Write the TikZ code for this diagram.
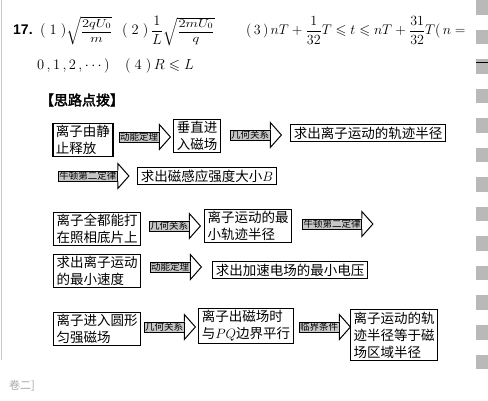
\RequirePackage{fix-cm}
\documentclass[tikz,border=0pt]{standalone}
\usepackage{amsmath,amssymb,graphicx}
\usepackage{fontspec}
\newfontfamily\cjk{Noto Sans CJK SC}
\newfontfamily\cjkb{Noto Sans CJK SC}[FakeBold=2.5]
\newfontfamily\hd{Liberation Sans}
\usetikzlibrary{calc}
\newcommand\ahead[1]{\draw[arrhead] (#1.north east) -- ([yshift=7pt]#1.north east) -- ([xshift=11pt]#1.east) -- ([yshift=-7pt]#1.south east) -- (#1.south east);}
\newcommand\flatroot[2]{\scalebox{1}[0.8]{$\sqrt{\dfrac{#1}{#2}}$}}
\begin{document}
\begin{tikzpicture}[x=1pt,y=-1pt,
  box/.style={draw,line width=1.1pt,inner xsep=3pt,inner ysep=2pt,align=left,font=\cjk\fontsize{13.5}{17}\selectfont},
  lab/.style={draw,line width=0.8pt,fill=gray!45,inner xsep=1pt,inner ysep=0.6pt,font=\cjk\fontsize{9.5}{10}\selectfont},
  arrhead/.style={line width=1pt,line join=miter},
  mth/.style={anchor=base west,inner sep=0pt,font=\fontsize{14.5}{17}\selectfont}]
\useasboundingbox (0,0) rectangle (488,401);
% page decorations
\draw[gray!45,line width=0.6pt] (1.5,0) -- (1.5,360);
\foreach \i in {0,...,12} \fill[gray!55] (475.5,{0.5+29.5*\i}) rectangle (488,{15+29.5*\i});
\draw[black,line width=0.8pt] (475.5,62) -- (488,62);
\node[text=gray!70,font=\cjk\fontsize{11}{12}\selectfont] (vol) at (22,386) {卷二]};
% answer lines
\node[anchor=base west,inner sep=0pt,font=\hd\bfseries\fontsize{14}{14}\selectfont] (n17) at (13,35) {17.};
\node[mth] (p1) at (40,35) {$(\;1\;)$\flatroot{2qU_0}{m}};
\node[mth] (p2) at (122,35) {$(\;2\;)\,\dfrac{1}{L}$\flatroot{2mU_0}{q}};
\node[mth,font=\fontsize{14}{17}\selectfont] (p3) at (246,35) {$(\,3\,)\,nT+\dfrac{1}{32}T\leqslant t\leqslant nT+\dfrac{31}{32}T(\,n=$};
\node[mth] (p4) at (37,70) {$0\,,1\,,2\,,\cdots)$};
\node[mth] (p5) at (125,70) {$(\;4\;)\,R\leqslant L$};
% heading
\node[font=\cjkb\fontsize{14}{14}\selectfont] (hdr) at (82,100) {【思路点拨】};
% boxes
\node[box] (b1) at (83,140) {离子由静\\止释放};
\node[box] (b2) at (197,136) {垂直进\\入磁场};
\node[box] (b3) at (368,133) {求出离子运动的轨迹半径};
\node[box] (b4) at (207,176) {求出磁感应强度大小$B$};
\node[box] (b5) at (97,229) {离子全都能打\\在照相底片上};
\node[box] (b6) at (248,226) {离子运动的最\\小轨迹半径};
\node[box] (b7) at (97,271) {求出离子运动\\的最小速度};
\node[box] (b8) at (290,270) {求出加速电场的最小电压};
\node[box] (b9) at (97,329) {离子进入圆形\\匀强磁场};
\node[box] (b10) at (246,326) {离子出磁场时\\与$PQ$边界平行};
\node[box] (b11) at (394,335) {离子运动的轨\\迹半径等于磁\\场区域半径};
% arrows
\node[lab] (a1) at (139,137) {动能定理};
\node[lab] (a2) at (250,135) {几何关系};
\node[lab] (a3) at (88,176) {牛顿第二定律};
\node[lab] (a4) at (169,226) {几何关系};
\node[lab] (a5) at (332,224) {牛顿第二定律};
\node[lab] (a6) at (170,267) {动能定理};
\node[lab] (a7) at (164,327) {几何关系};
\node[lab] (a8) at (319,327) {临界条件};
\foreach \a in {a1,a2,a3,a4,a5,a6,a7,a8} {\ahead{\a}}
\end{tikzpicture}
\end{document}
